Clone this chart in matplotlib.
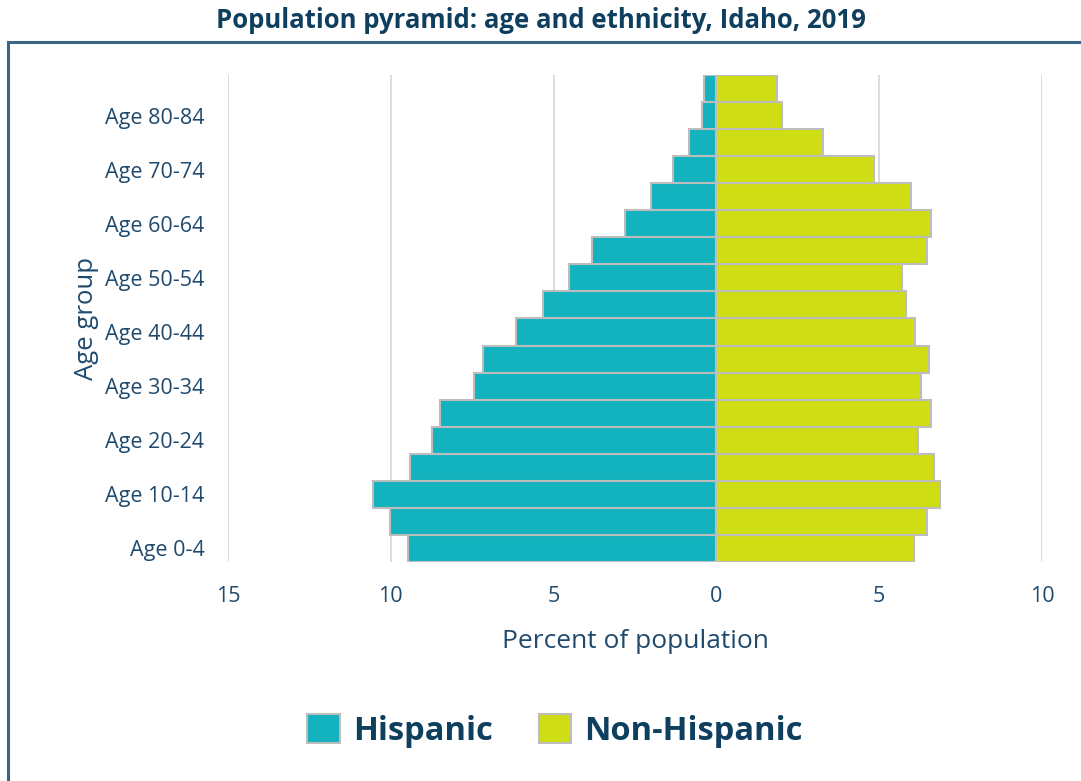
import matplotlib
matplotlib.use('Agg')
import matplotlib.pyplot as plt
from matplotlib.patches import Rectangle, Patch
import numpy as np

plt.rcParams['font.family'] = ['Open Sans', 'DejaVu Sans']

# data (percent of population), age 0-4 up to 85+
age_groups = ['Age 0-4', 'Age 5-9', 'Age 10-14', 'Age 15-19', 'Age 20-24', 'Age 25-29',
              'Age 30-34', 'Age 35-39', 'Age 40-44', 'Age 45-49', 'Age 50-54', 'Age 55-59',
              'Age 60-64', 'Age 65-69', 'Age 70-74', 'Age 75-79', 'Age 80-84', 'Age 85+']
hispanic = [9.48, 10.03, 10.55, 9.42, 8.74, 8.50, 7.45, 7.18, 6.17, 5.34,
            4.54, 3.83, 2.82, 2.02, 1.32, 0.83, 0.43, 0.37]
non_hispanic = [6.07, 6.47, 6.87, 6.69, 6.20, 6.60, 6.29, 6.53, 6.10, 5.83,
                5.71, 6.47, 6.60, 5.98, 4.85, 3.28, 2.02, 1.87]
xticks = [-15, -10, -5, 0, 5, 10]

teal = '#12B2BE'
lime = '#CFDE14'
navy = '#0E3F5E'
txt = '#1F4A6E'

fig = plt.figure(figsize=(10.81, 7.81), dpi=100)
ax = fig.add_axes([228/1081, 1-562/781, (1042-228)/1081, (562-75)/781])

y = np.arange(len(age_groups))
ax.barh(y, -np.array(hispanic), height=1.0, color=teal, edgecolor='#BDBDBD', lw=1.5, zorder=3)
ax.barh(y, non_hispanic, height=1.0, color=lime, edgecolor='#BDBDBD', lw=1.5, zorder=3)

ax.set_xlim(-15, 10)
ax.set_ylim(-0.5, len(age_groups) - 0.5)
ax.set_xticks(xticks)
ax.set_xticklabels([str(abs(v)) for v in xticks], color=txt, fontsize=15.5)
ax.set_yticks(y[::2])
ax.set_yticklabels(age_groups[::2], color=txt, fontsize=15.5)
ax.tick_params(axis='x', length=0, pad=17)
ax.tick_params(axis='y', length=0, pad=17)
ax.grid(axis='x', color='#D9D9D9', lw=1.3, zorder=0)
for s in ax.spines.values():
    s.set_visible(False)

ax.set_xlabel('Percent of population', color=txt, fontsize=19, labelpad=16)
ax.set_ylabel('Age group', color=txt, fontsize=18.5, labelpad=4)

fig.text(0.5, 1-20/781, 'Population pyramid: age and ethnicity, Idaho, 2019',
         ha='center', va='center', fontsize=18.5, fontweight='bold', color=navy)

# frame around chart area
fig.patches.append(Rectangle((8/1081, -0.05), 1.1, 1-42/781 + 0.05, transform=fig.transFigure,
                             fill=False, edgecolor='#3B6585', lw=2.2))

handles = [Patch(facecolor=teal, edgecolor='#BDBDBD', lw=1.5, label='Hispanic'),
           Patch(facecolor=lime, edgecolor='#BDBDBD', lw=1.5, label='Non-Hispanic')]
fig.legend(handles=handles, loc='center', bbox_to_anchor=(555/1081, 1-731/781), ncol=2,
           frameon=False, prop={'size': 23.5, 'weight': 'bold'}, labelcolor=navy,
           handlelength=1.0, handleheight=1.0, handletextpad=0.4, columnspacing=1.4)

fig.savefig('out.png', dpi=100)
